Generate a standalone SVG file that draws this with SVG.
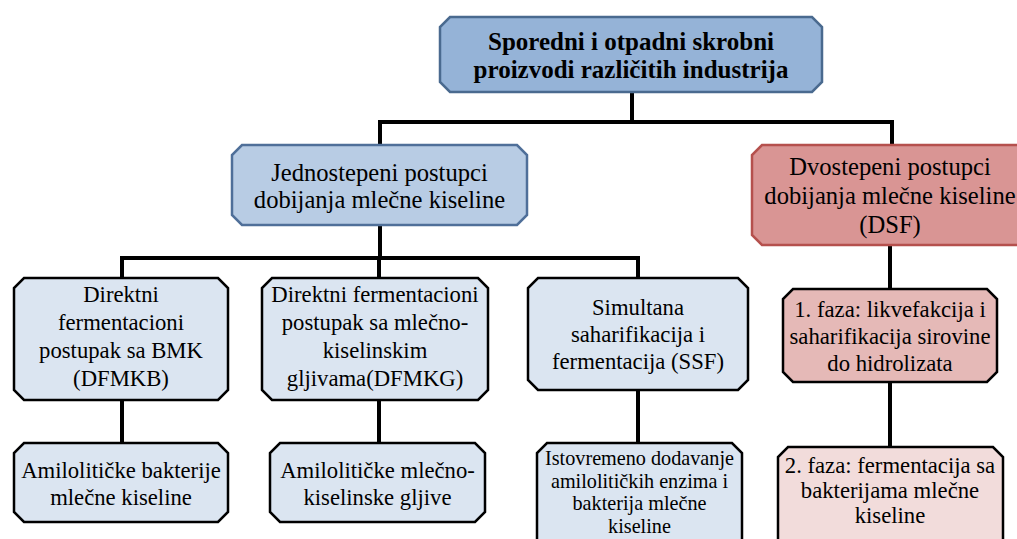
<svg xmlns="http://www.w3.org/2000/svg" width="1017" height="539" viewBox="0 0 1017 539">
<defs>
<path id="shape-top" d="M450 17H812L822 27V82L812 92H450L440 82V27Z"/>
</defs>
<rect width="1017" height="539" fill="#fff"/>
<g id="connectors" fill="none" stroke="#000" stroke-width="4">
<path d="M632 92V122M380 122H892M380 120V145M892 120V145"/>
<path d="M380 225V258M122 258H638M122 256V278M379 256V278M638 256V278M890 245V289"/>
<path d="M122 400V443M379 400V443M638 390V443M890 382V447"/>
</g>
<g font-family="Liberation Serif" text-anchor="middle" fill="#000">
<g id="top-node">
<use href="#shape-top" fill="#95b3d7" stroke="#4a6a8f" stroke-width="2.5"/>
<text font-size="25" font-weight="bold" x="631" y="50">Sporedni i otpadni skrobni</text>
<text font-size="25" font-weight="bold" x="631" y="78">proizvodi različitih industrija</text>
</g>
<g id="jednostepeni" font-size="24.6">
<path d="M242 145H517L527 155V215L517 225H242L232 215V155Z" fill="#b8cce4" stroke="#4f6f99" stroke-width="2.5"/>
<text x="379.5" y="181">Jednostepeni postupci</text>
<text x="379.5" y="208">dobijanja mlečne kiseline</text>
</g>
<g id="dvostepeni" font-size="24.6">
<path d="M762 145H1020L1030 155V235L1020 245H762L752 235V155Z" fill="#d99594" stroke="#b5504d" stroke-width="2.5"/>
<text x="890" y="175">Dvostepeni postupci</text>
<text x="890" y="204">dobijanja mlečne kiseline</text>
<text x="890" y="233">(DSF)</text>
</g>
<g id="dfmkb" font-size="22.7">
<path d="M24 278H218L228 288V390L218 400H24L14 390V288Z" fill="#dbe5f1" stroke="#000" stroke-width="2.5"/>
<text x="121" y="302">Direktni</text>
<text x="121" y="330">fermentacioni</text>
<text x="121" y="358">postupak sa BMK</text>
<text x="121" y="386">(DFMKB)</text>
</g>
<g id="dfmkg" font-size="22.7">
<path d="M272 278H478L488 288V390L478 400H272L262 390V288Z" fill="#dbe5f1" stroke="#000" stroke-width="2.5"/>
<text x="375" y="302">Direktni fermentacioni</text>
<text x="375" y="330">postupak sa mlečno-</text>
<text x="375" y="358">kiselinskim</text>
<text x="375" y="386">gljivama(DFMKG)</text>
</g>
<g id="ssf" font-size="22.7">
<path d="M538 278H738L748 288V380L738 390H538L528 380V288Z" fill="#dbe5f1" stroke="#000" stroke-width="2.5"/>
<text x="638" y="315">Simultana</text>
<text x="638" y="342">saharifikacija i</text>
<text x="638" y="369">fermentacija (SSF)</text>
</g>
<g id="faza1" font-size="22.7">
<path d="M793 289H987L997 299V372L987 382H793L783 372V299Z" fill="#e5b9b7" stroke="#000" stroke-width="2.5"/>
<text x="890" y="317">1. faza: likvefakcija i</text>
<text x="890" y="344">saharifikacija sirovine</text>
<text x="890" y="371">do hidrolizata</text>
</g>
<g id="amil-bakterije" font-size="22.7">
<path d="M24 443H218L228 453V512L218 522H24L14 512V453Z" fill="#dbe5f1" stroke="#000" stroke-width="2.5"/>
<text x="121" y="478">Amilolitičke bakterije</text>
<text x="121" y="505">mlečne kiseline</text>
</g>
<g id="amil-gljive" font-size="22.7">
<path d="M280 443H475L485 453V512L475 522H280L270 512V453Z" fill="#dbe5f1" stroke="#000" stroke-width="2.5"/>
<text x="377.5" y="478">Amilolitičke mlečno-</text>
<text x="377.5" y="505">kiselinske gljive</text>
</g>
<g id="istovremeno" font-size="20.2">
<path d="M547 443H732L742 453V560H537V453Z" fill="#dbe5f1" stroke="#000" stroke-width="2.5"/>
<text x="639.5" y="465">Istovremeno dodavanje</text>
<text x="639.5" y="488">amilolitičkih enzima i</text>
<text x="639.5" y="510">bakterija mlečne</text>
<text x="639.5" y="533">kiseline</text>
</g>
<g id="faza2" font-size="22.7">
<path d="M788 447H993L1003 457V560H778V457Z" fill="#f2dcdb" stroke="#000" stroke-width="2.5"/>
<text x="890" y="473">2. faza: fermentacija sa</text>
<text x="890" y="498">bakterijama mlečne</text>
<text x="890" y="523">kiseline</text>
</g>
</g>
</svg>
